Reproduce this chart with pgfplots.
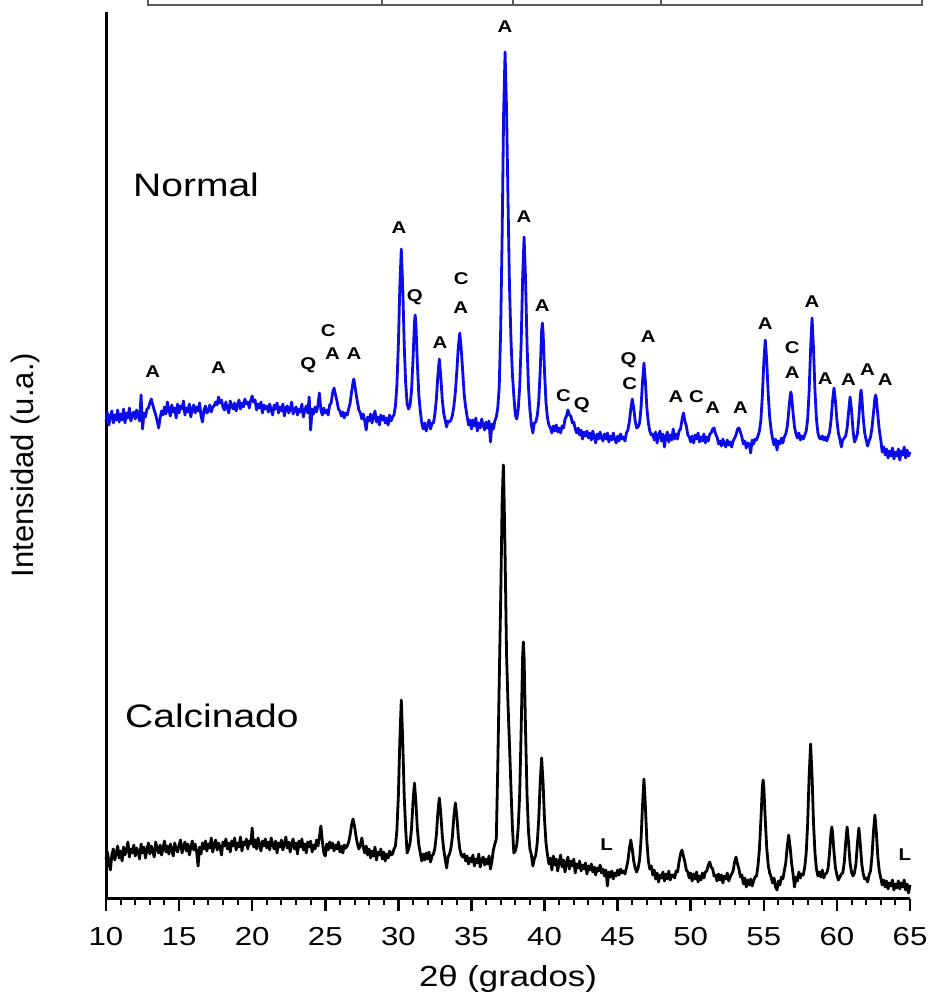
\documentclass[border=0pt]{standalone}
\usepackage{fontspec}
\setmainfont{Liberation Sans}
\newfontfamily\wf[FakeStretch=1.2]{Liberation Sans}
\usepackage{pgfplots}
\pgfplotsset{compat=1.18}
\definecolor{xrdblue}{RGB}{12,12,235}
\begin{document}
\begin{tikzpicture}
\path[use as bounding box] (0,0) rectangle (930pt,1001pt);
\draw[line width=1.4pt, black!65] (148pt,1010pt) -- (148pt,996pt) -- (922pt,996pt) -- (922pt,1010pt);
\foreach \xx in {382,513,661} \draw[line width=1.4pt, black!65] (\xx pt,996pt) -- (\xx pt,1010pt);
\tikzset{pk/.style={font=\wf\bfseries\fontsize{17}{17}\selectfont, inner sep=0pt, anchor=center}}
\begin{axis}[
 at={(106pt,102pt)}, anchor=south west,
 scale only axis, width=804pt, height=887pt,
 xmin=10, xmax=65, ymin=0, ymax=887,
 axis x line*=bottom, axis y line*=left,
 axis line style={line width=3pt, -},
 x axis line style={line width=3pt, -},
 y axis line style={line width=3pt, -},
 every outer x axis line/.append style={line width=3pt},
 every outer y axis line/.append style={line width=3pt},
 xtick={10,15,...,65}, minor x tick num=4,
 ytick=\empty,
 xtick pos=left,
 tick align=outside,
 major tick length=12pt, minor tick length=6pt,
 tick style={black, line width=2pt},
 major tick style={line width=2.6pt},
 minor tick style={line width=2pt},
 xticklabel style={font=\wf\fontsize{26}{26}\selectfont, yshift=-13pt},
 /pgf/number format/assume math mode=true,
 xlabel={2θ (grados)},
 xlabel style={font=\wf\fontsize{29}{29}\selectfont, at={(axis description cs:0.5,0)}, anchor=center, yshift=-80pt},
 clip=false,
]
\addplot[xrdblue, line width=2.8pt, line join=round] coordinates {
(10.0,478) (10.1,486) (10.2,474) (10.3,483) (10.4,488) (10.5,476) (10.6,484) (10.7,479) (10.8,489) (10.9,477)
(11.0,485) (11.1,479) (11.2,490) (11.3,476) (11.4,486) (11.5,481) (11.6,491) (11.7,478) (11.8,484) (11.9,487)
(12.0,480) (12.1,489) (12.2,483) (12.3,478) (12.4,504) (12.5,470) (12.6,486) (12.7,482) (12.8,490) (12.9,491)
(13.0,496) (13.1,500) (13.2,494) (13.3,489) (13.4,484) (13.5,478) (13.6,471) (13.7,481) (13.8,488) (13.9,484)
(14.0,492) (14.1,485) (14.2,497) (14.3,489) (14.4,483) (14.5,494) (14.6,487) (14.7,491) (14.8,481) (14.9,495)
(15.0,486) (15.1,493) (15.2,490) (15.3,498) (15.4,484) (15.5,491) (15.6,487) (15.7,495) (15.8,482) (15.9,490)
(16.0,494) (16.1,486) (16.2,492) (16.3,488) (16.4,496) (16.5,483) (16.6,477) (16.7,489) (16.8,493) (16.9,486)
(17.0,488) (17.1,494) (17.2,487) (17.3,492) (17.4,493) (17.5,497) (17.6,494) (17.7,502) (17.8,496) (17.9,499)
(18.0,492) (18.1,489) (18.2,497) (18.3,491) (18.4,486) (18.5,498) (18.6,493) (18.7,490) (18.8,496) (18.9,488)
(19.0,494) (19.1,499) (19.2,490) (19.3,496) (19.4,492) (19.5,500) (19.6,495) (19.7,497) (19.8,491) (19.9,499)
(20.0,503) (20.1,497) (20.2,499) (20.3,489) (20.4,495) (20.5,491) (20.6,497) (20.7,486) (20.8,494) (20.9,490)
(21.0,493) (21.1,487) (21.2,495) (21.3,489) (21.4,484) (21.5,494) (21.6,490) (21.7,496) (21.8,486) (21.9,492)
(22.0,488) (22.1,495) (22.2,483) (22.3,491) (22.4,493) (22.5,486) (22.6,490) (22.7,497) (22.8,485) (22.9,489)
(23.0,492) (23.1,484) (23.2,490) (23.3,487) (23.4,495) (23.5,482) (23.6,489) (23.7,493) (23.8,486) (23.9,502)
(24.0,469) (24.1,490) (24.2,485) (24.3,492) (24.4,487) (24.5,494) (24.6,506) (24.7,489) (24.8,484) (24.9,491)
(25.0,486) (25.1,489) (25.2,484) (25.3,494) (25.4,496) (25.5,506) (25.6,511) (25.7,504) (25.8,498) (25.9,490)
(26.0,488) (26.1,483) (26.2,487) (26.3,481) (26.4,486) (26.5,484) (26.6,490) (26.7,496) (26.8,507) (26.9,517) (26.95,520)
(27.0,516) (27.1,506) (27.2,497) (27.3,489) (27.4,486) (27.5,480) (27.6,485) (27.7,478) (27.8,469) (27.9,482)
(28.0,478) (28.1,485) (28.2,476) (28.3,483) (28.4,488) (28.5,477) (28.6,482) (28.7,474) (28.8,484) (28.9,479)
(29.0,483) (29.1,476) (29.2,481) (29.3,474) (29.4,484) (29.5,478) (29.6,482) (29.7,484) (29.8,493) (29.9,514)
(30.0,554) (30.1,612) (30.2,650) (30.3,612) (30.4,554) (30.5,516) (30.6,495) (30.7,490) (30.8,494) (30.9,508)
(31.0,539) (31.1,576) (31.15,584) (31.2,575) (31.3,535) (31.4,504) (31.5,488) (31.6,476) (31.7,470) (31.8,476) (31.9,468)
(32.0,474) (32.1,479) (32.2,470) (32.3,476) (32.4,476) (32.5,485) (32.6,500) (32.7,523) (32.8,540) (32.9,523)
(33.0,500) (33.1,486) (33.2,479) (33.3,472) (33.4,478) (33.5,477) (33.6,479) (33.7,484) (33.8,493) (33.9,507)
(34.0,528) (34.1,552) (34.2,566) (34.3,550) (34.4,528) (34.5,505) (34.6,492) (34.7,483) (34.8,474) (34.9,479)
(35.0,470) (35.1,479) (35.2,473) (35.3,481) (35.4,468) (35.5,476) (35.6,471) (35.7,480) (35.8,474) (35.9,469)
(36.0,477) (36.1,471) (36.2,478) (36.3,457) (36.4,475) (36.5,470) (36.6,478) (36.7,482) (36.8,491) (36.9,512)
(37.0,570) (37.1,665) (37.2,785) (37.3,847) (37.4,790) (37.5,700) (37.6,614) (37.7,561) (37.8,525) (37.9,503)
(38.0,484) (38.1,480) (38.2,490) (38.3,512) (38.4,556) (38.5,620) (38.6,662) (38.7,620) (38.8,556) (38.9,512)
(39.0,489) (39.1,474) (39.2,466) (39.3,476) (39.4,477) (39.5,483) (39.6,497) (39.7,527) (39.8,568) (39.85,576) (39.9,567)
(40.0,527) (40.1,496) (40.2,481) (40.3,474) (40.4,471) (40.5,466) (40.6,473) (40.7,468) (40.8,474) (40.9,467)
(41.0,471) (41.1,466) (41.2,473) (41.3,471) (41.4,480) (41.5,483) (41.6,489) (41.7,484) (41.8,483) (41.9,476)
(42.0,477) (42.1,470) (42.2,466) (42.3,471) (42.4,464) (42.5,469) (42.6,460) (42.7,467) (42.8,463) (42.9,468)
(43.0,461) (43.1,466) (43.2,459) (43.3,468) (43.4,462) (43.5,456) (43.6,465) (43.7,460) (43.8,467) (43.9,461)
(44.0,458) (44.1,465) (44.2,460) (44.3,466) (44.4,457) (44.5,463) (44.6,459) (44.7,466) (44.8,460) (44.9,456)
(45.0,463) (45.1,458) (45.2,465) (45.3,460) (45.4,462) (45.5,458) (45.6,466) (45.7,469) (45.8,477) (45.9,490)
(46.0,500) (46.1,491) (46.2,478) (46.3,471) (46.4,472) (46.5,476) (46.6,491) (46.7,517) (46.8,536) (46.9,517)
(47.0,491) (47.1,476) (47.2,468) (47.3,464) (47.4,465) (47.5,459) (47.6,467) (47.7,456) (47.8,463) (47.9,468)
(48.0,458) (48.1,465) (48.2,452) (48.3,462) (48.4,467) (48.5,457) (48.6,464) (48.7,459) (48.8,470) (48.9,460)
(49.0,465) (49.1,460) (49.2,468) (49.3,470) (49.4,479) (49.5,486) (49.6,478) (49.7,473) (49.8,464) (49.9,462)
(50.0,457) (50.1,463) (50.2,456) (50.3,464) (50.4,460) (50.5,466) (50.6,457) (50.7,462) (50.8,458) (50.9,465)
(51.0,456) (51.1,462) (51.2,458) (51.3,465) (51.4,466) (51.5,470) (51.6,471) (51.7,465) (51.8,462) (51.9,455)
(52.0,458) (52.1,453) (52.2,460) (52.3,455) (52.4,452) (52.5,459) (52.6,454) (52.7,457) (52.8,452) (52.9,458)
(53.0,461) (53.1,464) (53.2,470) (53.3,471) (53.4,467) (53.5,462) (53.6,455) (53.7,458) (53.8,451) (53.9,456)
(54.0,455) (54.1,446) (54.2,459) (54.3,455) (54.4,460) (54.5,459) (54.6,463) (54.7,468) (54.8,479) (54.9,503)
(55.0,537) (55.1,559) (55.2,538) (55.3,505) (55.4,482) (55.5,469) (55.6,460) (55.7,454) (55.8,460) (55.9,449)
(56.0,458) (56.1,455) (56.2,461) (56.3,456) (56.4,462) (56.5,465) (56.6,472) (56.7,487) (56.8,503) (56.85,507) (56.9,503)
(57.0,486) (57.1,472) (57.2,465) (57.3,461) (57.4,466) (57.5,459) (57.6,463) (57.7,460) (57.8,464) (57.9,468)
(58.0,480) (58.1,508) (58.2,550) (58.3,581) (58.4,550) (58.5,508) (58.6,480) (58.7,466) (58.8,461) (58.9,460)
(59.0,463) (59.1,459) (59.2,462) (59.3,458) (59.4,462) (59.5,467) (59.6,479) (59.7,498) (59.8,511) (59.9,498)
(60.0,479) (60.1,466) (60.2,460) (60.3,452) (60.4,459) (60.5,461) (60.6,463) (60.7,471) (60.8,487) (60.9,502)
(61.0,489) (61.1,469) (61.2,457) (61.3,460) (61.4,465) (61.5,481) (61.6,503) (61.65,509) (61.7,503) (61.8,481) (61.9,466)
(62.0,459) (62.1,453) (62.2,458) (62.3,462) (62.4,471) (62.5,486) (62.6,501) (62.65,504) (62.7,500) (62.8,484) (62.9,469)
(63.0,459) (63.1,447) (63.2,452) (63.3,444) (63.4,450) (63.5,441) (63.6,448) (63.7,443) (63.8,451) (63.9,440)
(64.0,447) (64.1,443) (64.2,450) (64.3,439) (64.4,448) (64.5,444) (64.6,452) (64.7,441) (64.8,449) (64.9,443) (65.0,447)
};
\addplot[black, line width=2.8pt, line join=round] coordinates {
(10.0,40) (10.1,47) (10.2,36) (10.3,29) (10.4,44) (10.5,50) (10.6,39) (10.7,46) (10.8,53) (10.9,41)
(11.0,48) (11.1,38) (11.2,52) (11.3,44) (11.4,49) (11.5,57) (11.6,42) (11.7,50) (11.8,46) (11.9,54)
(12.0,43) (12.1,51) (12.2,47) (12.3,40) (12.4,55) (12.5,46) (12.6,52) (12.7,41) (12.8,49) (12.9,56)
(13.0,45) (13.1,53) (13.2,48) (13.3,42) (13.4,57) (13.5,50) (13.6,46) (13.7,54) (13.8,44) (13.9,51)
(14.0,58) (14.1,47) (14.2,53) (14.3,45) (14.4,55) (14.5,49) (14.6,43) (14.7,56) (14.8,50) (14.9,47)
(15.0,54) (15.1,59) (15.2,46) (15.3,52) (15.4,57) (15.5,48) (15.6,55) (15.7,44) (15.8,51) (15.9,58)
(16.0,49) (16.1,55) (16.2,47) (16.3,33) (16.4,52) (16.5,45) (16.6,56) (16.7,50) (16.8,58) (16.9,48)
(17.0,55) (17.1,51) (17.2,61) (17.3,47) (17.4,54) (17.5,59) (17.6,49) (17.7,56) (17.8,52) (17.9,44)
(18.0,57) (18.1,53) (18.2,60) (18.3,50) (18.4,56) (18.5,47) (18.6,58) (18.7,53) (18.8,61) (18.9,49)
(19.0,56) (19.1,52) (19.2,62) (19.3,48) (19.4,57) (19.5,54) (19.6,60) (19.7,50) (19.8,58) (19.9,55)
(20.0,71) (20.1,52) (20.2,59) (20.3,50) (20.4,61) (20.5,54) (20.6,48) (20.7,58) (20.8,53) (20.9,60)
(21.0,51) (21.1,57) (21.2,49) (21.3,61) (21.4,55) (21.5,50) (21.6,58) (21.7,46) (21.8,56) (21.9,52)
(22.0,59) (22.1,49) (22.2,55) (22.3,62) (22.4,51) (22.5,57) (22.6,47) (22.7,55) (22.8,60) (22.9,50)
(23.0,56) (23.1,45) (23.2,58) (23.3,52) (23.4,60) (23.5,49) (23.6,55) (23.7,46) (23.8,57) (23.9,52)
(24.0,58) (24.1,47) (24.2,54) (24.3,50) (24.4,59) (24.5,53) (24.6,62) (24.7,73) (24.8,58) (24.9,46)
(25.0,43) (25.1,55) (25.2,49) (25.3,57) (25.4,51) (25.5,56) (25.6,48) (25.7,54) (25.8,50) (25.9,57)
(26.0,47) (26.1,53) (26.2,46) (26.3,54) (26.4,51) (26.5,53) (26.6,57) (26.7,64) (26.8,74) (26.9,80)
(27.0,73) (27.1,63) (27.2,55) (27.3,50) (27.4,54) (27.5,61) (27.6,52) (27.7,46) (27.8,53) (27.9,44)
(28.0,50) (28.1,41) (28.2,48) (28.3,43) (28.4,52) (28.5,39) (28.6,47) (28.7,44) (28.8,50) (28.9,40)
(29.0,47) (29.1,38) (29.2,45) (29.3,41) (29.4,48) (29.5,44) (29.6,45) (29.7,50) (29.8,53) (29.9,69)
(30.0,103) (30.1,158) (30.2,199) (30.3,158) (30.4,103) (30.5,70) (30.6,46) (30.7,50) (30.8,56) (30.9,70)
(31.0,97) (31.1,116) (31.2,97) (31.3,70) (31.4,54) (31.5,46) (31.6,38) (31.7,45) (31.8,39) (31.9,46)
(32.0,40) (32.1,47) (32.2,37) (32.3,43) (32.4,45) (32.5,51) (32.6,64) (32.7,86) (32.8,101) (32.9,86)
(33.0,64) (33.1,50) (33.2,40) (33.3,31) (33.4,42) (33.5,45) (33.6,51) (33.7,63) (33.8,83) (33.9,96)
(34.0,83) (34.1,63) (34.2,50) (34.3,44) (34.4,42) (34.5,45) (34.6,38) (34.7,43) (34.8,35) (34.9,41)
(35.0,37) (35.1,44) (35.2,33) (35.3,40) (35.4,36) (35.5,45) (35.6,32) (35.7,39) (35.8,42) (35.9,34)
(36.0,40) (36.1,35) (36.2,43) (36.3,30) (36.4,38) (36.5,49) (36.6,55) (36.7,60) (36.8,132) (36.9,217)
(37.0,300) (37.1,397) (37.18,434) (37.2,428) (37.3,345) (37.4,245) (37.5,195) (37.6,155) (37.7,112) (37.8,72) (37.9,46)
(38.0,48) (38.1,54) (38.2,72) (38.3,105) (38.4,169) (38.5,242) (38.55,257) (38.6,242) (38.7,169) (38.8,105) (38.9,68)
(39.0,50) (39.1,44) (39.2,33) (39.3,40) (39.4,44) (39.5,56) (39.6,79) (39.7,116) (39.8,141) (39.9,116)
(40.0,79) (40.1,56) (40.2,44) (40.3,35) (40.4,41) (40.5,29) (40.6,43) (40.7,34) (40.8,40) (40.9,28)
(41.0,37) (41.1,44) (41.2,32) (41.3,39) (41.4,27) (41.5,36) (41.6,42) (41.7,30) (41.8,38) (41.9,33)
(42.0,40) (42.1,26) (42.2,35) (42.3,31) (42.4,38) (42.5,28) (42.6,34) (42.7,30) (42.8,36) (42.9,25)
(43.0,33) (43.1,29) (43.2,35) (43.3,27) (43.4,32) (43.5,24) (43.6,31) (43.7,28) (43.8,34) (43.9,26)
(44.0,30) (44.1,23) (44.2,29) (44.3,13) (44.4,27) (44.5,22) (44.6,28) (44.7,20) (44.8,26) (44.9,23)
(45.0,29) (45.1,24) (45.2,30) (45.3,26) (45.4,28) (45.5,25) (45.6,31) (45.7,38) (45.8,50) (45.9,59)
(46.0,50) (46.1,38) (46.2,31) (46.3,27) (46.4,31) (46.5,39) (46.6,59) (46.7,93) (46.8,120) (46.9,92)
(47.0,58) (47.1,38) (47.2,30) (47.3,33) (47.4,24) (47.5,29) (47.6,20) (47.7,26) (47.8,17) (47.9,24)
(48.0,21) (48.1,27) (48.2,18) (48.3,25) (48.4,20) (48.5,28) (48.6,19) (48.7,24) (48.8,24) (48.9,21)
(49.0,28) (49.1,27) (49.2,37) (49.3,45) (49.4,49) (49.5,43) (49.6,37) (49.7,29) (49.8,27) (49.9,21)
(50.0,26) (50.1,18) (50.2,25) (50.3,20) (50.4,27) (50.5,17) (50.6,23) (50.7,19) (50.8,26) (50.9,21)
(51.0,27) (51.1,28) (51.2,34) (51.3,37) (51.4,32) (51.5,30) (51.6,23) (51.7,24) (51.8,18) (51.9,25)
(52.0,19) (52.1,24) (52.2,16) (52.3,23) (52.4,20) (52.5,26) (52.6,18) (52.7,22) (52.8,25) (52.9,28)
(53.0,37) (53.1,42) (53.2,35) (53.3,30) (53.4,22) (53.5,24) (53.6,15) (53.7,21) (53.8,12) (53.9,19)
(54.0,14) (54.1,20) (54.2,13) (54.3,18) (54.4,22) (54.5,23) (54.6,33) (54.7,50) (54.8,79) (54.9,112) (54.95,119)
(55.0,112) (55.1,79) (55.2,51) (55.3,34) (55.4,26) (55.5,22) (55.6,16) (55.7,21) (55.8,12) (55.9,9)
(56.0,18) (56.1,14) (56.2,22) (56.3,20) (56.4,28) (56.5,36) (56.6,52) (56.7,64) (56.8,52) (56.9,36)
(57.0,25) (57.1,12) (57.2,22) (57.3,18) (57.4,27) (57.5,21) (57.6,25) (57.7,24) (57.8,32) (57.9,46)
(58.0,76) (58.1,123) (58.2,155) (58.3,123) (58.4,76) (58.5,46) (58.6,30) (58.7,23) (58.8,27) (58.9,22)
(59.0,29) (59.1,21) (59.2,25) (59.3,26) (59.4,31) (59.5,47) (59.6,67) (59.65,72) (59.7,67) (59.8,47) (59.9,31)
(60.0,24) (60.1,19) (60.2,22) (60.3,25) (60.4,26) (60.5,36) (60.6,56) (60.7,72) (60.8,56) (60.9,36)
(61.0,27) (61.1,23) (61.2,26) (61.3,35) (61.4,55) (61.5,71) (61.6,55) (61.7,35) (61.8,25) (61.9,20)
(62.0,21) (62.1,17) (62.2,24) (62.3,28) (62.4,43) (62.5,67) (62.6,84) (62.7,66) (62.8,42) (62.9,28)
(63.0,21) (63.1,14) (63.2,19) (63.3,12) (63.4,18) (63.5,10) (63.6,16) (63.7,13) (63.8,19) (63.9,9)
(64.0,15) (64.1,11) (64.2,18) (64.3,10) (64.4,16) (64.5,12) (64.6,19) (64.7,9) (64.8,15) (64.9,6) (65.0,14)
};
\node[anchor=base west, font=\wf\fontsize{32.5}{32}\selectfont, inner sep=0pt] at (axis cs:11.85,702) {Normal};
\node[anchor=base west, font=\wf\fontsize{32.5}{32}\selectfont, inner sep=0pt] at (axis cs:11.3,171) {Calcinado};
\node[pk] at (axis cs:13.2,527) {A};
\node[pk] at (axis cs:17.7,531) {A};
\node[pk] at (axis cs:23.84,534) {Q};
\node[pk] at (axis cs:25.2,568) {C};
\node[pk] at (axis cs:25.5,545) {A};
\node[pk] at (axis cs:26.97,545) {A};
\node[pk] at (axis cs:30.04,671) {A};
\node[pk] at (axis cs:31.13,602) {Q};
\node[pk] at (axis cs:32.85,556) {A};
\node[pk] at (axis cs:34.3,620) {C};
\node[pk] at (axis cs:34.26,591) {A};
\node[pk] at (axis cs:37.29,872) {A};
\node[pk] at (axis cs:38.6,682) {A};
\node[pk] at (axis cs:39.85,593) {A};
\node[pk] at (axis cs:41.3,503) {C};
\node[pk] at (axis cs:42.55,494) {Q};
\node[pk] at (axis cs:45.75,539) {Q};
\node[pk] at (axis cs:45.82,515) {C};
\node[pk] at (axis cs:47.1,562) {A};
\node[pk] at (axis cs:49.0,502) {A};
\node[pk] at (axis cs:50.4,502) {C};
\node[pk] at (axis cs:51.5,491) {A};
\node[pk] at (axis cs:53.4,491) {A};
\node[pk] at (axis cs:55.1,575) {A};
\node[pk] at (axis cs:56.95,551) {C};
\node[pk] at (axis cs:56.95,526) {A};
\node[pk] at (axis cs:58.3,597) {A};
\node[pk] at (axis cs:59.2,520) {A};
\node[pk] at (axis cs:60.8,519) {A};
\node[pk] at (axis cs:62.1,529) {A};
\node[pk] at (axis cs:63.3,519) {A};
\node[pk] at (axis cs:44.25,54) {L};
\node[pk] at (axis cs:64.65,44) {L};
\end{axis}
\node[rotate=90, font=\fontsize{31}{31}\selectfont, inner sep=0pt] at (25pt,536pt) {Intensidad (u.a.)};
\end{tikzpicture}
\end{document}
